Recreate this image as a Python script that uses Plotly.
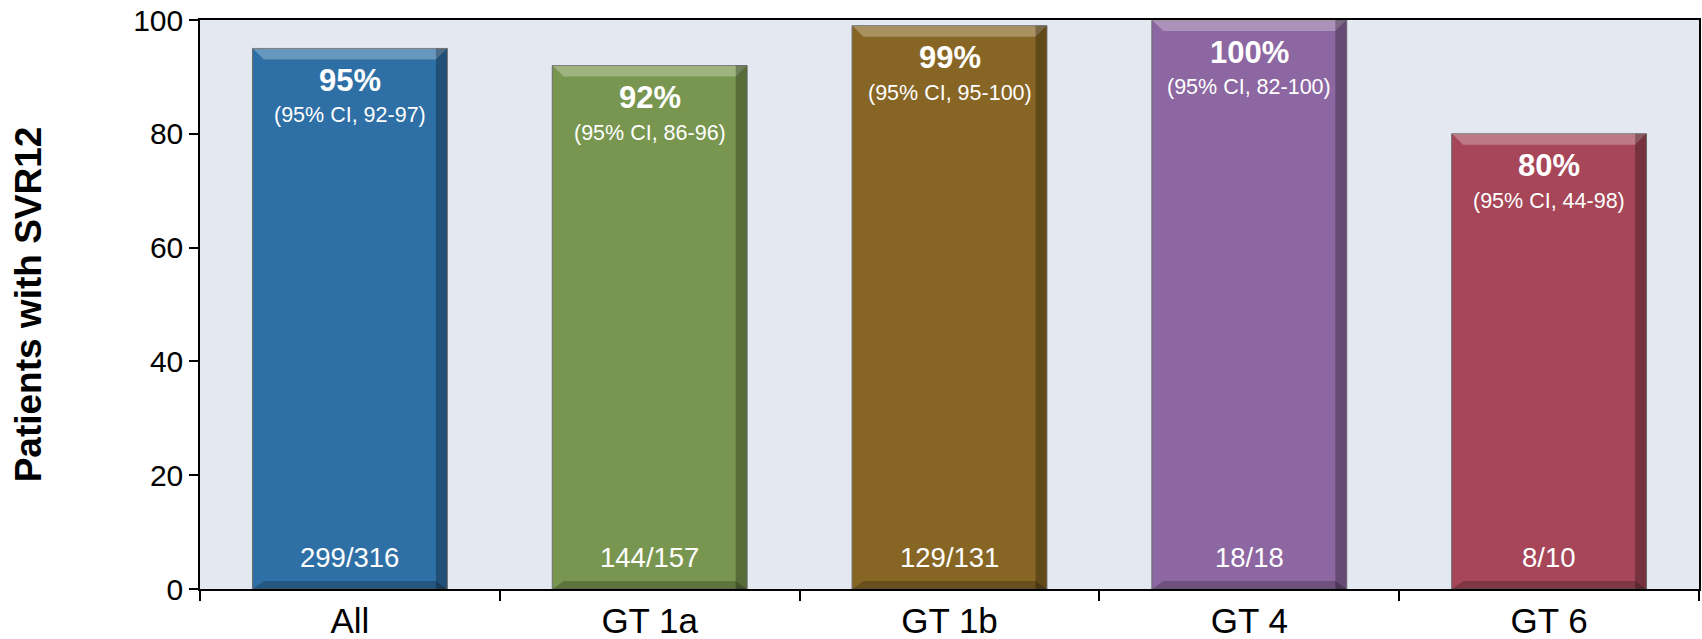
import plotly.graph_objects as go

# Sustained virologic response at week 12, by genotype
categories = ["All", "GT 1a", "GT 1b", "GT 4", "GT 6"]
svr12_pct = [95, 92, 99, 100, 80]
ci_low = [92, 86, 95, 82, 44]
ci_high = [97, 96, 100, 100, 98]
responders = [299, 144, 129, 18, 8]
patients = [316, 157, 131, 18, 10]

bar_colors = ["#2E70A6", "#78964F", "#876625", "#8D67A1", "#A64658"]
bar_width = 0.65
font_family = "Arial, Liberation Sans, sans-serif"

fig = go.Figure()
fig.add_trace(go.Bar(
    x=categories,
    y=svr12_pct,
    width=bar_width,
    marker=dict(color=bar_colors, line=dict(color="#6B6B6B", width=1)),
    hoverinfo="skip",
))

shapes = []
annotations = []
for cat, pct, lo, hi, n, tot in zip(categories, svr12_pct, ci_low, ci_high, responders, patients):
    # bevel: lighter top edge, shaded right side and bottom
    shapes.append(dict(
        type="path", xref="x", yref="y",
        xsizemode="pixel", ysizemode="pixel", xanchor=cat, yanchor=pct,
        path="M -97,0 L 97,0 L 86,-11 L -86,-11 Z",
        fillcolor="rgba(255,255,255,0.28)", line=dict(width=0), layer="above",
    ))
    shapes.append(dict(
        type="rect", xref="x", yref="y",
        xsizemode="pixel", xanchor=cat, x0=86, x1=97, y0=0, y1=pct,
        fillcolor="rgba(0,0,0,0.28)", line=dict(width=0), layer="above",
    ))
    shapes.append(dict(
        type="path", xref="x", yref="y",
        xsizemode="pixel", ysizemode="pixel", xanchor=cat, yanchor=0,
        path="M -97,0 L 97,0 L 86,8 L -86,8 Z",
        fillcolor="rgba(0,0,0,0.22)", line=dict(width=0), layer="above",
    ))
    annotations.append(dict(
        x=cat, y=pct, xref="x", yref="y", yshift=-32, showarrow=False,
        text=f"<b>{pct}%</b>", font=dict(family=font_family, size=31, color="white"),
    ))
    annotations.append(dict(
        x=cat, y=pct, xref="x", yref="y", yshift=-67, showarrow=False,
        text=f"(95% CI, {lo}-{hi})", font=dict(family=font_family, size=21.5, color="white"),
    ))
    annotations.append(dict(
        x=cat, y=0, xref="x", yref="y", yshift=32, showarrow=False,
        text=f"{n}/{tot}", font=dict(family=font_family, size=27.5, color="white"),
    ))

fig.update_layout(
    width=1702, height=639,
    margin=dict(l=200, r=3, t=20, b=50),
    paper_bgcolor="white",
    plot_bgcolor="#E4E9F1",
    showlegend=False,
    bargap=1 - bar_width,
    font=dict(family=font_family, color="black"),
    shapes=shapes,
    annotations=annotations,
)
fig.update_xaxes(
    automargin=False,
    showgrid=False, showline=True, linecolor="black", linewidth=1.5, mirror=True,
    ticks="outside", tickson="boundaries", ticklen=10, tickcolor="black", tickwidth=1.5,
    tickfont=dict(size=35, family=font_family, color="black"),
)
fig.update_yaxes(
    automargin=False,
    range=[0, 100], dtick=20, showgrid=False, zeroline=False,
    showline=True, linecolor="black", linewidth=1.5, mirror=True,
    ticks="outside", ticklen=9, tickcolor="black", tickwidth=1.5,
    tickfont=dict(size=30, family=font_family, color="black"),
    title=dict(text="<b>Patients with SVR12</b>", standoff=80,
               font=dict(size=37, family=font_family, color="black")),
)

fig.write_html("out.html")
